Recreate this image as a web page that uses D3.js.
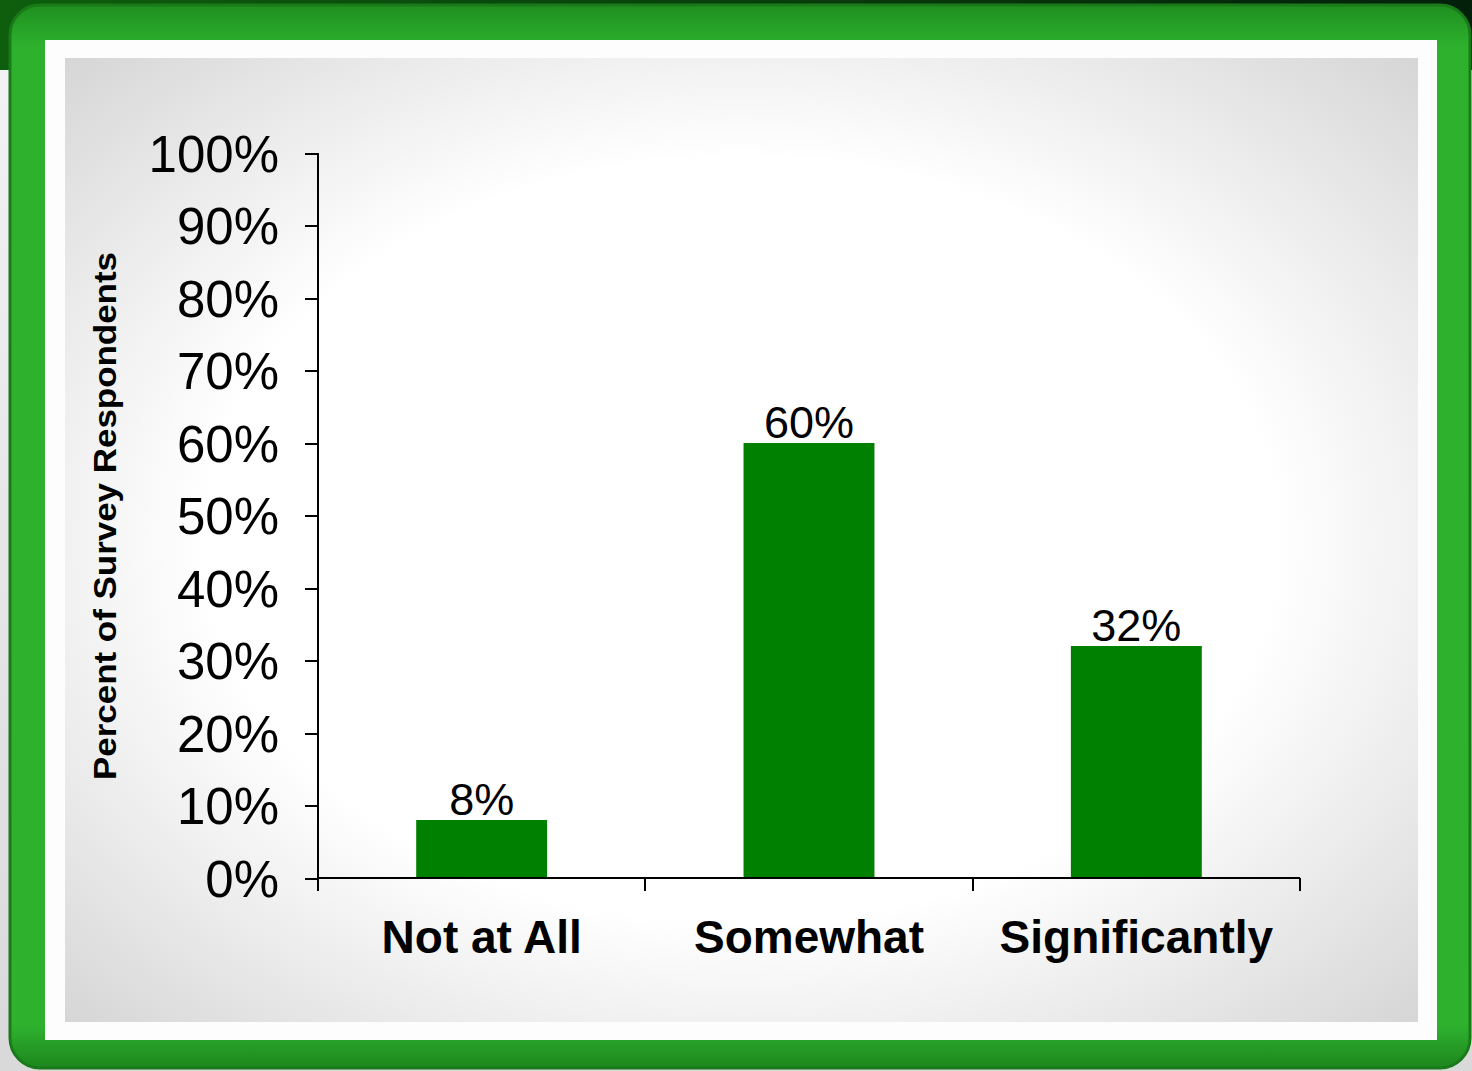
<!DOCTYPE html>
<html>
<head>
<meta charset="utf-8">
<script src="https://d3js.org/d3.v7.min.js"></script>
<style>
  body { margin:0; background:#fff; }
  svg { display:block; }
  text { font-family: "Liberation Sans", Arial, Helvetica, sans-serif; fill:#000; }
  .axis path, .axis line { stroke:#000; stroke-width:2; fill:none; shape-rendering:crispEdges; }
</style>
</head>
<body>
<script>
// chart data
var categories = ["Not at All", "Somewhat", "Significantly"];
var values = [8, 60, 32];
var yTicks = [0, 10, 20, 30, 40, 50, 60, 70, 80, 90, 100];

var W = 1472, H = 1071;
var svg = d3.select("body").append("svg").attr("width", W).attr("height", H);
var defs = svg.append("defs");

// background strip at top
var bgGrad = defs.append("linearGradient").attr("id", "bgTop");
bgGrad.append("stop").attr("offset", "0%").attr("stop-color", "#0d5e0d");
bgGrad.append("stop").attr("offset", "100%").attr("stop-color", "#03200a");
var bgLeft = defs.append("linearGradient").attr("id", "bgLeft").attr("x1", 0).attr("x2", 0).attr("y1", 0).attr("y2", 1);
bgLeft.append("stop").attr("offset", "0%").attr("stop-color", "#f4f4f4");
bgLeft.append("stop").attr("offset", "100%").attr("stop-color", "#d9d9d9");
svg.append("rect").attr("x", 0).attr("y", 0).attr("width", W).attr("height", H).attr("fill", "url(#bgLeft)");
svg.append("rect").attr("x", 0).attr("y", 0).attr("width", W).attr("height", 70).attr("fill", "url(#bgTop)");

// green frame
var frameGrad = defs.append("linearGradient").attr("id", "frameG").attr("x1", 0).attr("x2", 0).attr("y1", 0).attr("y2", 1);
frameGrad.append("stop").attr("offset", "0%").attr("stop-color", "#1f8f1f");
frameGrad.append("stop").attr("offset", "4%").attr("stop-color", "#2eb22e");
frameGrad.append("stop").attr("offset", "96%").attr("stop-color", "#2eb22e");
frameGrad.append("stop").attr("offset", "100%").attr("stop-color", "#1d861d");
svg.append("rect").attr("x", 10).attr("y", 5).attr("width", 1460).attr("height", 1063)
  .attr("rx", 30).attr("fill", "url(#frameG)");
svg.append("rect").attr("x", 10).attr("y", 5).attr("width", 1460).attr("height", 1063)
  .attr("rx", 30).attr("fill", "none").attr("stroke", "#1a7a1a").attr("stroke-width", 3);

// white mat and grey panel
svg.append("rect").attr("x", 45).attr("y", 40).attr("width", 1392).attr("height", 1000).attr("fill", "#fdfdfd");
var panelGrad = defs.append("radialGradient").attr("id", "panelG").attr("cx", "50%").attr("cy", "50%").attr("r", "72%");
panelGrad.append("stop").attr("offset", "55%").attr("stop-color", "#ffffff");
panelGrad.append("stop").attr("offset", "100%").attr("stop-color", "#d4d4d4");
svg.append("rect").attr("x", 65).attr("y", 58).attr("width", 1353).attr("height", 964).attr("fill", "url(#panelG)");

// plot
var x0 = 318, x1 = 1300, yTop = 153, yBot = 878;
var x = d3.scaleBand().domain(categories).range([x0, x1]).paddingInner(0.6).paddingOuter(0.3);
var y = d3.scaleLinear().domain([0, 100]).range([yBot, yTop]);

var g = svg.append("g");

g.selectAll("rect.bar").data(values).enter().append("rect")
  .attr("class", "bar")
  .attr("x", function (d, i) { return x(categories[i]); })
  .attr("width", x.bandwidth())
  .attr("y", function (d) { return y(d); })
  .attr("height", function (d) { return y(0) - y(d); })
  .attr("fill", "#008000");

g.selectAll("text.val").data(values).enter().append("text")
  .attr("class", "val")
  .attr("x", function (d, i) { return x(categories[i]) + x.bandwidth() / 2; })
  .attr("y", function (d) { return y(d) - 5; })
  .attr("text-anchor", "middle")
  .style("font-size", "45px")
  .text(function (d) { return d + "%"; });

// y axis
var yAxis = d3.axisLeft(y).tickValues(yTicks).tickSize(13).tickPadding(26)
  .tickFormat(function (d) { return d + "%"; });
var ya = g.append("g").attr("class", "axis").attr("transform", "translate(" + x0 + ",0)").call(yAxis);
ya.select(".domain").attr("d", "M0," + yTop + "V" + (yBot + 12));
ya.selectAll("text").style("font-size", "51px").attr("dy", "0.36em");

// x axis
var xa = g.append("g").attr("class", "axis").attr("transform", "translate(0," + yBot + ")");
xa.append("path").attr("class", "domain").attr("d", "M" + x0 + ",0H" + x1);
var bounds = [x0].concat(categories.map(function (c) { return x(c) - x.step() * x.paddingInner() / 2 + x.step(); }));
xa.selectAll("line.tk").data(bounds).enter().append("line")
  .attr("x1", function (d) { return d; }).attr("x2", function (d) { return d; })
  .attr("y1", 0).attr("y2", 13);
xa.selectAll("text.cat").data(categories).enter().append("text")
  .attr("x", function (d) { return x(d) + x.bandwidth() / 2; })
  .attr("y", 75)
  .attr("text-anchor", "middle")
  .style("font-size", "46px").style("font-weight", "bold")
  .text(function (d) { return d; });

// y title
svg.append("text")
  .attr("transform", "translate(116,516) rotate(-90)")
  .attr("text-anchor", "middle")
  .attr("textLength", 528).attr("lengthAdjust", "spacingAndGlyphs")
  .style("font-size", "31px").style("font-weight", "bold")
  .text("Percent of Survey Respondents");
</script>
</body>
</html>
